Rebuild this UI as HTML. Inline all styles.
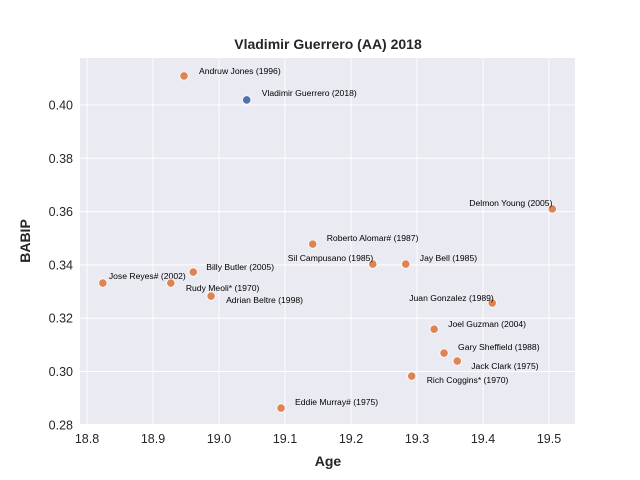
<!DOCTYPE html>
<html><head><meta charset="utf-8"><style>body{margin:0;background:#fff}svg{display:block;font-family:"Liberation Sans",Arial,sans-serif}</style></head>
<body>
<svg id="chart" width="640" height="480">
<rect x="80" y="58" width="495" height="366" fill="#eaeaf2"/>
<g id="grid"></g><g id="ticks"></g><g id="pts"></g>
<text x="328" y="49" text-anchor="middle" font-size="14" font-weight="bold" fill="#262626">Vladimir Guerrero (AA) 2018</text>
<text x="328" y="466" text-anchor="middle" font-size="14" font-weight="bold" fill="#262626">Age</text>
<text transform="translate(30,241) rotate(-90)" text-anchor="middle" font-size="14" font-weight="bold" fill="#262626">BABIP</text>
</svg>
<script>
const names=["Andruw Jones (1996)","Vladimir Guerrero (2018)","Delmon Young (2005)","Roberto Alomar# (1987)","Sil Campusano (1985)","Jay Bell (1985)","Billy Butler (2005)","Jose Reyes# (2002)","Rudy Meoli* (1970)","Adrian Beltre (1998)","Juan Gonzalez (1989)","Joel Guzman (2004)","Gary Sheffield (1988)","Jack Clark (1975)","Rich Coggins* (1970)","Eddie Murray# (1975)"];
const ages=[18.947,19.042,19.505,19.142,19.233,19.283,18.961,18.824,18.927,18.988,19.414,19.326,19.341,19.361,19.292,19.094];
const babips=[0.4109,0.4019,0.3610,0.3478,0.3403,0.3403,0.3373,0.3332,0.3332,0.3283,0.3257,0.3159,0.3069,0.3039,0.2983,0.2863];
const xTicks=[18.8,18.9,19.0,19.1,19.2,19.3,19.4,19.5];
const yTicks=[0.28,0.30,0.32,0.34,0.36,0.38,0.40];
const labelDx=[15,15,-83,14,-85,14,13,6,15,15,-83,14,14,14,15,14];
const labelDy=[-2,-4,-3,-3,-3,-3,-2,-4,8,7,-2,-2,-3,8,7,-3];
const NS="http://www.w3.org/2000/svg";
const X=v=>87+(v-18.8)*660, Y=v=>105-(v-0.40)*2665;
function mk(t,a,p){const e=document.createElementNS(NS,t);for(const k in a)e.setAttribute(k,a[k]);p.appendChild(e);return e;}
const g=document.getElementById('grid'),tk=document.getElementById('ticks'),pts=document.getElementById('pts');
xTicks.forEach(v=>{const l=mk('line',{x1:X(v),x2:X(v),y1:58,y2:424,stroke:'#fff','stroke-width':1},g);

const t=mk('text',{x:X(v),y:443,'text-anchor':'middle','font-size':12.5,fill:'#262626'},tk);t.textContent=v.toFixed(1);
});
yTicks.forEach(v=>{const l=mk('line',{x1:80,x2:575,y1:Y(v),y2:Y(v),stroke:'#fff','stroke-width':1},g);

const t=mk('text',{x:73,y:Y(v)+4.5,'text-anchor':'end','font-size':12.5,fill:'#262626'},tk);t.textContent=v.toFixed(2);
});
names.forEach((n,i)=>{const cx=X(ages[i]),cy=Y(babips[i]);
const c=mk('circle',{cx:cx,cy:cy,r:4.2,fill:i==1?'#4c72b0':'#dd8452',stroke:'#fff','stroke-width':0.8},pts);

const t=mk('text',{x:cx+labelDx[i],y:cy+labelDy[i],'font-size':8.6,fill:'#000'},pts);t.textContent=n;
});
</script>
</body></html>
